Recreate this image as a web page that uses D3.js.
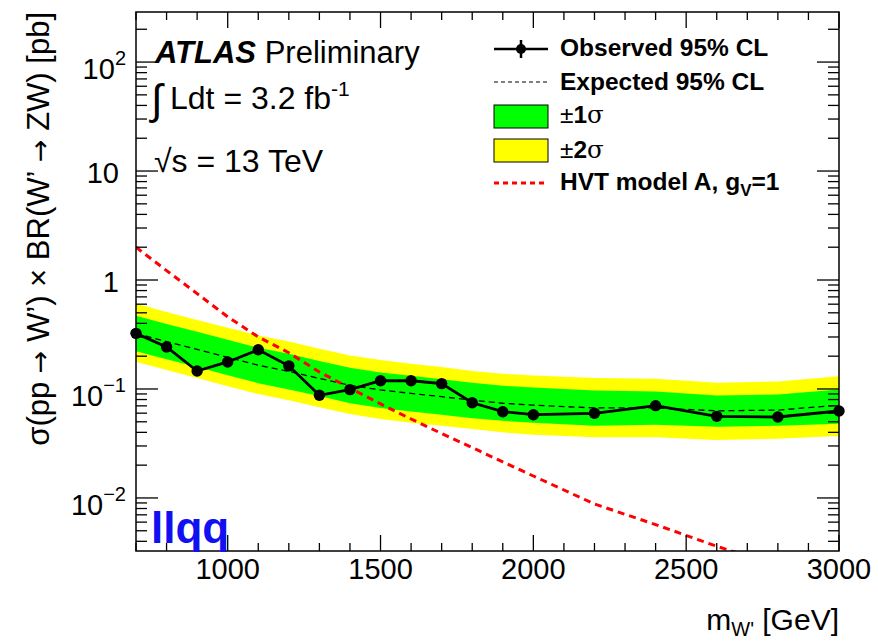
<!DOCTYPE html>
<html>
  <head>
    <title>W' to ZW limit, llqq</title>
    <script src="https://d3js.org/d3.v7.min.js"></script>
    <style>
      body { margin: 0; background: white; }
      text { font-family: "Liberation Sans", Arial, sans-serif; fill: black; }
    </style>
  </head>
  <body>
    <div id="chart"></div>
    <script>
      // W' mass points [GeV]
      const masses = [700, 800, 900, 1000, 1100, 1200, 1300, 1400, 1500, 1600, 1700, 1800, 1900, 2000, 2200, 2400, 2600, 2800, 3000];
      // observed 95% CL limit [pb]
      const observed = [0.324, 0.243, 0.146, 0.177, 0.229, 0.163, 0.0875, 0.0986, 0.119, 0.119, 0.112, 0.0748, 0.0619, 0.0581, 0.0598, 0.0703, 0.0561, 0.0553, 0.0628];
      // expected 95% CL limit [pb]
      const expected = [0.324, 0.272, 0.231, 0.195, 0.165, 0.145, 0.125, 0.108, 0.098, 0.091, 0.085, 0.079, 0.074, 0.071, 0.067, 0.067, 0.063, 0.064, 0.071];
      // +-1 sigma band
      const sig1Up = [0.47, 0.394, 0.335, 0.283, 0.239, 0.21, 0.181, 0.157, 0.142, 0.132, 0.123, 0.114, 0.107, 0.103, 0.097, 0.095, 0.087, 0.089, 0.099];
      const sig1Dn = [0.222, 0.187, 0.159, 0.134, 0.113, 0.099, 0.086, 0.074, 0.067, 0.062, 0.058, 0.054, 0.051, 0.049, 0.046, 0.047, 0.045, 0.046, 0.048];
      // +-2 sigma band
      const sig2Up = [0.61, 0.51, 0.43, 0.365, 0.31, 0.272, 0.234, 0.203, 0.184, 0.17, 0.159, 0.146, 0.138, 0.133, 0.126, 0.124, 0.114, 0.117, 0.131];
      const sig2Dn = [0.178, 0.149, 0.126, 0.106, 0.09, 0.079, 0.068, 0.059, 0.053, 0.049, 0.046, 0.043, 0.04, 0.038, 0.036, 0.036, 0.034, 0.035, 0.037];
      // HVT model A, gV=1 theory prediction [pb]
      const hvt = [2.0, 1.22, 0.75, 0.46, 0.30, 0.215, 0.143, 0.102, 0.073, 0.053, 0.039, 0.029, 0.0214, 0.0159, 0.0088, 0.0057, 0.0036, 0.0024, 0.0016];

      const xTicks = [1000, 1500, 2000, 2500, 3000];
      const yTicks = [0.01, 0.1, 1, 10, 100];
      const yTickLabels = [["10", "\u22122"], ["10", "\u22121"], ["1", ""], ["10", ""], ["10", "2"]];

      const W = 878, H = 642;
      const frame = { left: 136, right: 839, top: 12, bottom: 551 };

      const svg = d3.select("#chart").append("svg")
        .attr("width", W).attr("height", H);

      const x = d3.scaleLinear().domain([700, 3000]).range([frame.left, frame.right]);
      const y = d3.scaleLog().domain([0.00326, 288]).range([frame.bottom, frame.top]);

      const pts = masses.map((m, i) => ({
        m: m, obs: observed[i], exp: expected[i],
        u1: sig1Up[i], d1: sig1Dn[i], u2: sig2Up[i], d2: sig2Dn[i], hvt: hvt[i]
      }));

      svg.append("clipPath").attr("id", "clip")
        .append("rect")
        .attr("x", frame.left).attr("y", frame.top)
        .attr("width", frame.right - frame.left).attr("height", frame.bottom - frame.top);

      const plot = svg.append("g").attr("clip-path", "url(#clip)");

      // bands
      plot.append("path").datum(pts)
        .attr("fill", "#ffff00")
        .attr("d", d3.area().x(d => x(d.m)).y0(d => y(d.d2)).y1(d => y(d.u2)));
      plot.append("path").datum(pts)
        .attr("fill", "#00ff00")
        .attr("d", d3.area().x(d => x(d.m)).y0(d => y(d.d1)).y1(d => y(d.u1)));

      // expected
      plot.append("path").datum(pts)
        .attr("fill", "none").attr("stroke", "black").attr("stroke-width", 1.3)
        .attr("stroke-dasharray", "6,4")
        .attr("d", d3.line().x(d => x(d.m)).y(d => y(d.exp)));

      // HVT
      plot.append("path").datum(pts)
        .attr("fill", "none").attr("stroke", "#ff0000").attr("stroke-width", 3)
        .attr("stroke-dasharray", "7,5")
        .attr("d", d3.line().x(d => x(d.m)).y(d => y(d.hvt)));

      // observed
      plot.append("path").datum(pts)
        .attr("fill", "none").attr("stroke", "black").attr("stroke-width", 2.8)
        .attr("d", d3.line().x(d => x(d.m)).y(d => y(d.obs)));
      svg.selectAll(".obs").data(pts).join("circle")
        .attr("class", "obs")
        .attr("cx", d => x(d.m)).attr("cy", d => y(d.obs)).attr("r", 5.7)
        .attr("fill", "black");

      // frame
      svg.append("rect")
        .attr("x", frame.left).attr("y", frame.top)
        .attr("width", frame.right - frame.left).attr("height", frame.bottom - frame.top)
        .attr("fill", "none").attr("stroke", "black").attr("stroke-width", 1.5);

      const axes = svg.append("g").attr("stroke", "black").attr("stroke-width", 1.3);

      // x ticks, bottom and top
      d3.range(700, 3001, 100).forEach(m => {
        const len = m % 500 === 0 ? 16 : 8;
        axes.append("line").attr("x1", x(m)).attr("x2", x(m))
          .attr("y1", frame.bottom).attr("y2", frame.bottom - len);
        axes.append("line").attr("x1", x(m)).attr("x2", x(m))
          .attr("y1", frame.top).attr("y2", frame.top + len);
      });
      svg.selectAll(".xlab").data(xTicks).join("text")
        .attr("class", "xlab")
        .attr("x", d => x(d)).attr("y", 579)
        .attr("text-anchor", "middle").attr("font-size", 29)
        .text(d => d);

      // y ticks, left and right (log minor ticks)
      const yMin = y.domain()[0], yMax = y.domain()[1];
      [0.001, 0.01, 0.1, 1, 10, 100].forEach(dec => {
        for (let k = 1; k <= 9; k++) {
          const v = dec * k;
          if (v < yMin || v > yMax) continue;
          const len = k === 1 ? 22 : 11;
          axes.append("line").attr("x1", frame.left).attr("x2", frame.left + len)
            .attr("y1", y(v)).attr("y2", y(v));
          axes.append("line").attr("x1", frame.right).attr("x2", frame.right - len)
            .attr("y1", y(v)).attr("y2", y(v));
        }
      });
      yTicks.forEach((v, i) => {
        const [base, ex] = yTickLabels[i];
        const t = svg.append("text")
          .attr("text-anchor", "end").attr("font-size", 29)
          .attr("x", ex ? 126 : 119)
          .attr("y", y(v) + (ex ? 17 : 12));
        t.append("tspan").text(base);
        if (ex) t.append("tspan").attr("font-size", 20).attr("dy", -14).text(ex);
      });

      // axis titles
      const xt = svg.append("text").attr("x", frame.right).attr("y", 630)
        .attr("text-anchor", "end").attr("font-size", 30);
      xt.append("tspan").text("m");
      xt.append("tspan").attr("font-size", 20).attr("dy", 6).text("W'");
      xt.append("tspan").attr("dy", -6).text(" [GeV]");

      const yt = svg.append("text")
        .attr("transform", `translate(49,${frame.top}) rotate(-90)`)
        .attr("text-anchor", "end").attr("font-size", 31);
      const arrow = () => yt.append("tspan").attr("font-family", "DejaVu Sans").attr("font-size", 27).text(" \u2192 ");
      yt.append("tspan").text("\u03c3(pp");
      arrow();
      yt.append("tspan").text("W\u2019) \u00d7 BR(W\u2019");
      arrow();
      yt.append("tspan").text("ZW) [pb]");

      // ATLAS labels
      const atl = svg.append("text").attr("x", 155).attr("y", 63).attr("font-size", 31);
      atl.append("tspan").attr("font-weight", "bold").attr("font-style", "italic").text("ATLAS");
      atl.append("tspan").text(" Preliminary");

      svg.append("text").attr("x", 151).attr("y", 114).attr("font-size", 42)
        .attr("font-family", "DejaVu Sans").text("\u222b");
      const lumi = svg.append("text").attr("x", 170).attr("y", 109).attr("font-size", 32);
      lumi.append("tspan").text("Ldt = 3.2 fb");
      lumi.append("tspan").attr("font-size", 21).attr("dy", -13).text("-1");

      svg.append("text").attr("x", 154).attr("y", 172).attr("font-size", 32)
        .text("\u221as = 13 TeV");

      svg.append("text").attr("x", 151).attr("y", 543)
        .attr("font-family", "DejaVu Sans Condensed, DejaVu Sans")
        .attr("font-weight", "bold").attr("font-size", 44)
        .style("fill", "#1010f0").text("llqq");

      // legend
      const leg = svg.append("g");
      const lx0 = 494, lx1 = 548, tx = 560;
      const rows = [56, 90, 123, 158, 190];
      // observed
      leg.append("line").attr("x1", lx0).attr("x2", lx1).attr("y1", 49).attr("y2", 49)
        .attr("stroke", "black").attr("stroke-width", 2.5);
      leg.append("line").attr("x1", 521).attr("x2", 521).attr("y1", 40).attr("y2", 58)
        .attr("stroke", "black").attr("stroke-width", 2.5);
      leg.append("circle").attr("cx", 521).attr("cy", 49).attr("r", 5).attr("fill", "black");
      // expected
      leg.append("line").attr("x1", lx0).attr("x2", lx1).attr("y1", 82).attr("y2", 82)
        .attr("stroke", "black").attr("stroke-width", 1.2).attr("stroke-dasharray", "4,3");
      // bands
      leg.append("rect").attr("x", lx0).attr("y", 105).attr("width", lx1 - lx0).attr("height", 23)
        .attr("fill", "#00ff00").attr("stroke", "black").attr("stroke-width", 1);
      leg.append("rect").attr("x", lx0).attr("y", 139).attr("width", lx1 - lx0).attr("height", 23)
        .attr("fill", "#ffff00").attr("stroke", "black").attr("stroke-width", 1);
      // HVT
      leg.append("line").attr("x1", lx0).attr("x2", lx1).attr("y1", 183).attr("y2", 183)
        .attr("stroke", "#ff0000").attr("stroke-width", 3).attr("stroke-dasharray", "5,4");

      const legText = (yy) => leg.append("text").attr("x", tx).attr("y", yy)
        .attr("font-size", 24.5).attr("font-weight", "bold");
      legText(rows[0]).text("Observed 95% CL");
      legText(rows[1]).text("Expected 95% CL");
      const s1 = legText(rows[2]);
      s1.append("tspan").attr("font-weight", "normal").text("\u00b1");
      s1.append("tspan").text("1");
      s1.append("tspan").attr("font-weight", "normal").attr("font-family", "DejaVu Serif").text("\u03c3");
      const s2 = legText(rows[3]);
      s2.append("tspan").attr("font-weight", "normal").text("\u00b1");
      s2.append("tspan").text("2");
      s2.append("tspan").attr("font-weight", "normal").attr("font-family", "DejaVu Serif").text("\u03c3");
      const hv = legText(rows[4]);
      hv.append("tspan").text("HVT model A, g");
      hv.append("tspan").attr("font-size", 17).attr("dy", 6).text("V");
      hv.append("tspan").attr("dy", -6).text("=1");
    </script>
  </body>
</html>
